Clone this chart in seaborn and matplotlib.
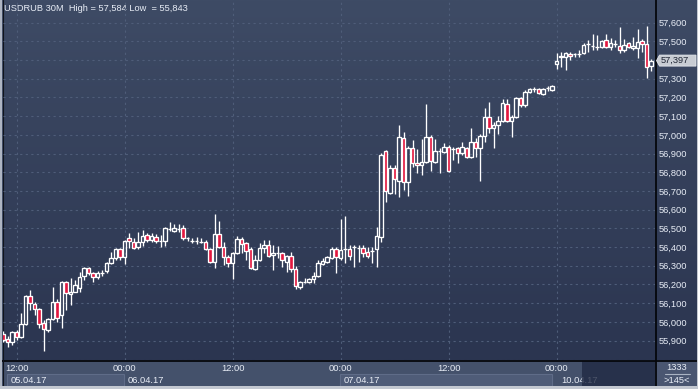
import numpy as np
import matplotlib
matplotlib.use("Agg")
import matplotlib.pyplot as plt
import seaborn as sns
from matplotlib.patches import Rectangle, Polygon

# ---------------- data (USDRUB, 30-minute candles) ----------------
open_ = [55935, 55908, 55892, 55946, 55919, 55989, 56138, 56096, 56069, 55994,
         55957, 56016, 56106, 56037, 56213, 56149, 56160, 56181, 56245, 56288,
         56261, 56240, 56261, 56272, 56315, 56342, 56390, 56347, 56448, 56427,
         56400, 56427, 56464, 56438, 56454, 56432, 56432, 56497, 56486, 56497,
         56502, 56448, 56432, 56432, 56427, 56427, 56390, 56320, 56470, 56400,
         56347, 56315, 56368, 56443, 56422, 56390, 56283, 56331, 56395, 56411,
         56358, 56368, 56368, 56320, 56352, 56283, 56187, 56213, 56213, 56229,
         56245, 56309, 56320, 56342, 56390, 56342, 56390, 56390, 56400, 56395,
         56395, 56374, 56379, 56390, 56454, 56914, 56689, 56823, 56753, 56983,
         56748, 56930, 56850, 56839, 56855, 56989, 56855, 56914, 56908, 56935,
         56925, 56930, 56903, 56930, 56882, 56962, 56930, 56994, 57096, 57037,
         57053, 57074, 57165, 57074, 57096, 57197, 57160, 57229, 57245, 57245,
         57219, 57251, 57240, 57379, 57416, 57416, 57432, 57432, 57432, 57438,
         57486, 57475, 57470, 57470, 57507, 57470, 57486, 57475, 57454, 57491,
         57465, 57465, 57502, 57486, 57368]
high = [55951, 55924, 55951, 55957, 56048, 56144, 56171, 56106, 56072, 56010,
        56018, 56187, 56122, 56216, 56216, 56235, 56224, 56267, 56291, 56291,
        56267, 56272, 56277, 56318, 56374, 56395, 56395, 56435, 56475, 56448,
        56480, 56491, 56475, 56475, 56470, 56464, 56505, 56534, 56524, 56524,
        56518, 56454, 56448, 56454, 56448, 56438, 56395, 56577, 56540, 56427,
        56358, 56371, 56459, 56454, 56427, 56400, 56358, 56422, 56438, 56438,
        56411, 56406, 56374, 56358, 56374, 56299, 56219, 56235, 56235, 56267,
        56331, 56342, 56352, 56400, 56400, 56550, 56566, 56411, 56411, 56411,
        56411, 56400, 56400, 56507, 56903, 56919, 56839, 56839, 57053, 57015,
        56940, 56973, 56925, 56978, 57165, 56999, 56978, 56930, 56956, 56946,
        56935, 56935, 56962, 56935, 57037, 56983, 57005, 57144, 57176, 57069,
        57101, 57192, 57192, 57106, 57203, 57203, 57240, 57251, 57256, 57251,
        57251, 57261, 57267, 57438, 57443, 57443, 57443, 57438, 57454, 57491,
        57507, 57540, 57534, 57507, 57540, 57518, 57507, 57577, 57513, 57497,
        57524, 57567, 57513, 57584, 57406]
low = [55892, 55866, 55876, 55903, 55915, 55985, 56064, 56037, 55967, 55843,
       55946, 56012, 55999, 55967, 56064, 56090, 56157, 56160, 56224, 56251,
       56213, 56229, 56245, 56261, 56309, 56331, 56331, 56309, 56395, 56390,
       56390, 56406, 56427, 56427, 56422, 56400, 56406, 56486, 56480, 56480,
       56438, 56432, 56422, 56416, 56422, 56384, 56315, 56288, 56395, 56304,
       56293, 56229, 56363, 56368, 56331, 56285, 56277, 56326, 56368, 56347,
       56277, 56342, 56293, 56267, 56267, 56176, 56176, 56208, 56208, 56208,
       56240, 56304, 56315, 56336, 56261, 56331, 56315, 56331, 56293, 56320,
       56347, 56342, 56315, 56293, 56427, 56641, 56684, 56684, 56668, 56705,
       56673, 56828, 56796, 56785, 56850, 56807, 56850, 56796, 56903, 56801,
       56866, 56850, 56892, 56876, 56876, 56882, 56753, 56962, 57010, 56930,
       57005, 57069, 57069, 56989, 57090, 57149, 57149, 57224, 57229, 57219,
       57213, 57235, 57235, 57352, 57363, 57347, 57400, 57416, 57416, 57432,
       57443, 57454, 57454, 57465, 57465, 57454, 57470, 57438, 57443, 57465,
       57454, 57411, 57443, 57304, 57342]
close = [55903, 55892, 55946, 55919, 55989, 56138, 56101, 56069, 55989, 55962,
         56016, 56106, 56021, 56213, 56155, 56160, 56197, 56240, 56288, 56261,
         56240, 56261, 56261, 56315, 56342, 56390, 56347, 56432, 56432, 56395,
         56427, 56459, 56438, 56459, 56432, 56432, 56502, 56497, 56502, 56497,
         56448, 56448, 56432, 56432, 56427, 56390, 56320, 56470, 56400, 56347,
         56315, 56368, 56443, 56416, 56379, 56288, 56331, 56395, 56411, 56352,
         56368, 56368, 56331, 56352, 56283, 56192, 56213, 56213, 56229, 56245,
         56315, 56326, 56347, 56390, 56347, 56384, 56390, 56352, 56400, 56395,
         56368, 56352, 56379, 56459, 56892, 56700, 56823, 56764, 56989, 56748,
         56930, 56850, 56839, 56855, 56989, 56860, 56914, 56914, 56935, 56807,
         56925, 56903, 56935, 56882, 56962, 56930, 56994, 57096, 57037, 57053,
         57074, 57170, 57074, 57096, 57197, 57160, 57229, 57245, 57245, 57224,
         57245, 57251, 57261, 57395, 57422, 57438, 57422, 57432, 57432, 57481,
         57486, 57475, 57470, 57502, 57470, 57491, 57486, 57454, 57481, 57470,
         57475, 57497, 57486, 57363, 57397]

time_ticks = [3, 27, 51, 75, 99, 123]
time_labels = ["12:00", "00:00", "12:00", "00:00", "12:00", "00:00"]
date_labels = ["05.04.17", "06.04.17", "07.04.17", "10.04.17"]
price_ticks = [55900, 56000, 56100, 56200, 56300, 56400, 56500, 56600, 56700,
               56800, 56900, 57000, 57100, 57200, 57300, 57400, 57500, 57600]
last_price = 57397
title_text = "USDRUB 30M  High = 57,584 Low  = 55,843"
bars_total = "1333"
bars_visible = ">145<"

# ---------------- style ----------------
sns.set_theme(style="dark")
plt.rcParams["font.family"] = ["Liberation Sans", "DejaVu Sans"]

W, H = 698, 389
FS = 6.7
TXT = "#e8edf6"
fig = plt.figure(figsize=(W / 100, H / 100), dpi=100)
fig.patch.set_facecolor("#44516b")

# background / chrome axes in pixel coordinates
bg = fig.add_axes([0, 0, 1, 1])
bg.set_xlim(0, W)
bg.set_ylim(H, 0)
bg.axis("off")
bg.set_zorder(1)

top_c = np.array([62, 75, 101]) / 255
bot_c = np.array([43, 53, 80]) / 255
t = np.linspace(0, 1, 256)[:, None, None]
grad = top_c[None, None, :] * (1 - t) + bot_c[None, None, :] * t
bg.imshow(grad, extent=[3, W, 360, 0], aspect="auto", zorder=0, interpolation="bilinear")

# bottom time panel
bg.add_patch(Rectangle((0, 360), W, 29, fc="#44516b", ec="none", zorder=1))
bg.add_patch(Rectangle((7, 374), 117, 12, fc="#4f5c78", ec="#5f6c88", lw=0.8, zorder=2))
bg.add_patch(Rectangle((340, 374), 212, 12, fc="#4f5c78", ec="#5f6c88", lw=0.8, zorder=2))
for xd, lab in zip([11, 128, 344, 561], date_labels):
    bg.text(xd, 380.5, lab, ha="left", va="center", fontsize=FS, color=TXT, zorder=3)
bg.add_patch(Rectangle((582, 361), 73, 25, fc="#202942", ec="none", alpha=0.78, zorder=4))

# bottom-right counter box
bg.add_patch(Rectangle((656, 361), 41, 25, fc="#4a5671", ec="none", zorder=2))
bg.text(677, 367, bars_total, ha="center", va="center", fontsize=FS, color=TXT, zorder=3)
bg.plot([665, 690], [373.5, 373.5], color="#aab3c3", lw=0.8, zorder=3)
bg.text(677, 380.5, bars_visible, ha="center", va="center", fontsize=FS, color=TXT, zorder=3)

# frame lines
bg.plot([0, W], [360.5, 360.5], color="#05070c", lw=1.3, zorder=5)
bg.plot([655.5, 655.5], [0, 386], color="#05070c", lw=1.3, zorder=5)
bg.add_patch(Rectangle((0, 0), 2, H, fc="#aeb5c2", ec="none", zorder=6))
bg.plot([2.5, 2.5], [0, 386], color="#10141c", lw=0.8, zorder=6)
bg.add_patch(Rectangle((0, 386), W, 3, fc="#c3c8d1", ec="none", zorder=6))
bg.add_patch(Rectangle((697, 0), 1, H, fc="#c3c8d1", ec="none", zorder=6))

# title
bg.text(4, 8.5, title_text, ha="left", va="center", fontsize=FS, color=TXT, zorder=7)

# ---------------- main candle axes ----------------
ax = fig.add_axes([3 / W, 29 / H, 652 / W, 360 / H])
ax.set_zorder(2)
ax.patch.set_alpha(0)
ax.set_xlim(0, 652 / 4.5)
ax.set_ylim(55796, 57721)
for s in ax.spines.values():
    s.set_visible(False)

o = np.array(open_, float)
c = np.array(close, float)
hi = np.array(high, float)
lo = np.array(low, float)
x = np.arange(len(o))
body_top = np.maximum(o, c)
body_bot = np.minimum(o, c)
up = c >= o

ax.vlines(x, body_top, hi, color="white", lw=0.95, zorder=3)
ax.vlines(x, lo, body_bot, color="white", lw=0.95, zorder=3)
heights = np.maximum(body_top - body_bot, 1.5)
ax.bar(x[up], heights[up], bottom=body_bot[up], width=0.78, facecolor="none",
       edgecolor="white", linewidth=0.95, zorder=4)
ax.bar(x[~up], heights[~up], bottom=body_bot[~up], width=0.78, facecolor="#e3173f",
       edgecolor="white", linewidth=0.95, zorder=4)

# grid & ticks
ax.set_yticks(price_ticks)
ax.set_yticklabels([f"{v:,}" if v != 57400 else "" for v in price_ticks])
ax.yaxis.tick_right()
ax.set_xticks(time_ticks)
ax.set_xticklabels(time_labels)
ax.tick_params(axis="y", length=0, pad=2.4, labelsize=FS, labelcolor=TXT)
ax.tick_params(axis="x", length=0, pad=3.0, labelsize=FS, labelcolor=TXT)
ax.grid(True, color="#4f5d79", linestyle=(0, (2, 3)), linewidth=0.8, zorder=1)
ax.set_axisbelow(True)

# last price tag
ypix = bg.transData.inverted().transform(ax.transData.transform((0, last_price)))[1]
tag = Polygon([(656.5, ypix), (659.5, ypix - 5.5), (696, ypix - 5.5), (696, ypix + 5.5),
               (659.5, ypix + 5.5)], closed=True, fc="#c8ccd3", ec="#e4e7ec", lw=0.6, zorder=8)
bg.add_patch(tag)
fig.text(660.5 / W, 1 - ypix / H, f"{last_price:,}", ha="left", va="center",
         fontsize=FS, color="#1e2433", zorder=10)

fig.savefig("out.png", dpi=100, facecolor=fig.get_facecolor())
